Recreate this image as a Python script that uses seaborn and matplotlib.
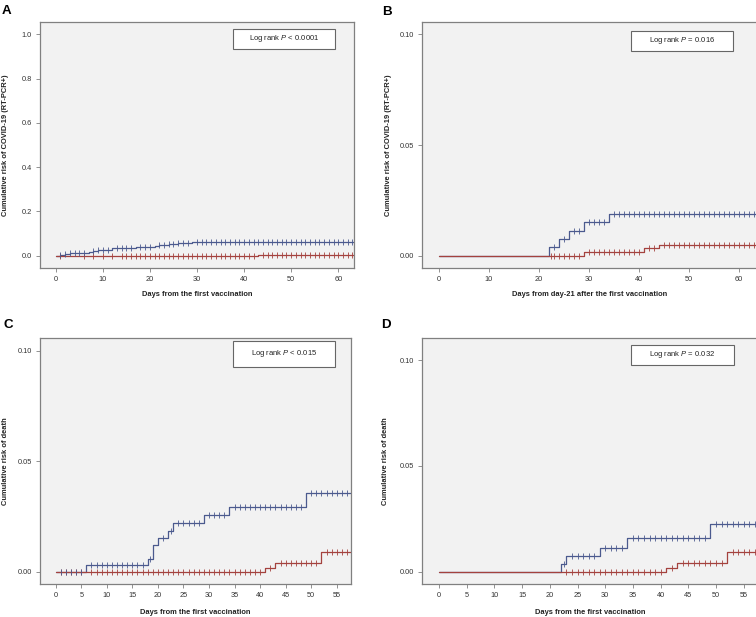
import numpy as np
import pandas as pd
import matplotlib
matplotlib.use("Agg")
import matplotlib.pyplot as plt
from matplotlib.patches import Rectangle
import seaborn as sns

sns.set_theme(style="white")
plt.rcParams['font.family'] = ['Liberation Sans', 'DejaVu Sans']
plt.rcParams['mathtext.fontset'] = 'custom'
plt.rcParams['mathtext.rm'] = 'Liberation Sans'
plt.rcParams['mathtext.it'] = 'Liberation Sans:italic'

# ---------------- data ----------------
# Panel A: COVID-19 (RT-PCR+), days from first vaccination
A_blue_t = [0, 1, 2, 3, 7, 8, 9, 12, 17, 21, 22, 24, 26, 29, 64]
A_blue_v = [0, 0.004, 0.008, 0.012, 0.018, 0.022, 0.026, 0.033, 0.040, 0.045, 0.050, 0.055, 0.058, 0.063, 0.063]
A_red_t = [0, 43, 64]
A_red_v = [0, 0.004, 0.004]
A_blue_cens = [1, 2, 3, 4, 5, 6, 8, 9, 10, 11, 13, 14, 15, 16, 18, 19, 20, 22, 23, 24, 25, 26, 27, 28,
               30, 31, 32, 33, 34, 35, 36, 37, 38, 39, 40, 41, 42, 43, 44, 45, 46, 47, 48, 49, 50,
               51, 52, 53, 54, 55, 56, 57, 58, 59, 60, 61, 62, 63]
A_red_cens = [1, 6, 8, 10, 12, 14, 15, 16, 17, 18, 19, 20, 21, 22, 23, 24, 25, 26, 27, 28, 29, 30, 31,
              32, 33, 34, 35, 36, 37, 38, 39, 40, 41, 42, 44, 45, 46, 47, 48, 49, 50, 51, 52, 53, 54,
              55, 56, 57, 58, 59, 60, 61, 62, 63]

# Panel B: COVID-19 (RT-PCR+), days from day-21
B_blue_t = [0, 22, 24, 26, 29, 34, 64]
B_blue_v = [0, 0.0038, 0.0075, 0.0113, 0.0150, 0.0190, 0.0190]
B_red_t = [0, 29, 41, 44, 64]
B_red_v = [0, 0.0015, 0.0033, 0.0050, 0.0050]
B_blue_cens = [23, 25, 27, 28, 30, 31, 32, 33, 35, 36, 37, 38, 39, 40, 41, 42, 43, 44, 45, 46, 47, 48,
               49, 50, 51, 52, 53, 54, 55, 56, 57, 58, 59, 60, 61, 62, 63]
B_red_cens = [22.5, 23, 24, 25, 26, 27, 28, 30, 31, 32, 33, 34, 35, 36, 37, 38, 39, 40, 42, 43, 45, 46,
              47, 48, 49, 50, 51, 52, 53, 54, 55, 56, 57, 58, 59, 60, 61, 62, 63]

# Panel C: death, days from first vaccination
C_blue_t = [0, 6, 18, 19, 20, 22, 23, 29, 34, 49, 59]
C_blue_v = [0, 0.0029, 0.0057, 0.0122, 0.0152, 0.0184, 0.0219, 0.0256, 0.0294, 0.0354, 0.0354]
C_red_t = [0, 41, 43, 52, 59]
C_red_v = [0, 0.0017, 0.0041, 0.0089, 0.0089]
C_blue_cens = [1, 2, 3, 4, 5, 7, 8, 9, 10, 11, 12, 13, 14, 15, 16, 17, 18.5, 21, 22.5, 24, 25, 26, 27,
               28, 30, 31, 32, 33, 35, 36, 37, 38, 39, 40, 41, 42, 43, 44, 45, 46, 47, 48, 50, 51, 52,
               53, 54, 55, 56, 57, 58]
C_red_cens = [1, 2, 3, 4, 5, 7, 8, 9, 10, 11, 12, 13, 14, 15, 16, 17, 18, 19, 20, 21, 22, 23, 24, 25,
              26, 27, 28, 29, 30, 31, 32, 33, 34, 35, 36, 37, 38, 39, 40, 42, 44, 45, 46, 47, 48, 49,
              50, 51, 53, 54, 55, 56, 57, 58]

# Panel D: death, days from first vaccination
D_blue_t = [0, 22, 23, 29, 34, 49, 59]
D_blue_v = [0, 0.0035, 0.0074, 0.0113, 0.0157, 0.0225, 0.0225]
D_red_t = [0, 41, 43, 52, 59]
D_red_v = [0, 0.0017, 0.0043, 0.0094, 0.0094]
D_blue_cens = [22.5, 24, 25, 26, 27, 28, 30, 31, 32, 33, 35, 36, 37, 38, 39, 40, 41, 42, 43, 44, 45,
               46, 47, 48, 50, 51, 52, 53, 54, 55, 56, 57, 58]
D_red_cens = [23, 24, 25, 26, 27, 28, 29, 30, 31, 32, 33, 34, 35, 36, 37, 38, 39, 40, 42, 44, 45, 46,
              47, 48, 49, 50, 51, 53, 54, 55, 56, 57, 58]

p_texts = ["Log rank $P$ < 0.0001", "Log rank $P$ = 0.016",
           "Log rank $P$ < 0.015", "Log rank $P$ = 0.032"]
ylabels = ["Cumulative risk of COVID-19 (RT-PCR+)", "Cumulative risk of COVID-19 (RT-PCR+)",
           "Cumulative risk of death", "Cumulative risk of death"]
xlabels = ["Days from the first vaccination", "Days from day-21 after the first vaccination",
           "Days from the first vaccination", "Days from the first vaccination"]
panel_letters = ["A", "B", "C", "D"]
xticks_list = [[0, 10, 20, 30, 40, 50, 60], [0, 10, 20, 30, 40, 50, 60],
               [0, 5, 10, 15, 20, 25, 30, 35, 40, 45, 50, 55],
               [0, 5, 10, 15, 20, 25, 30, 35, 40, 45, 50, 55]]
yticks_list = [[0.0, 0.2, 0.4, 0.6, 0.8, 1.0], [0.00, 0.05, 0.10],
               [0.00, 0.05, 0.10], [0.00, 0.05, 0.10]]
ytick_fmt = ["{:.1f}", "{:.2f}", "{:.2f}", "{:.2f}"]

curves = [
    (A_blue_t, A_blue_v, A_red_t, A_red_v, A_blue_cens, A_red_cens),
    (B_blue_t, B_blue_v, B_red_t, B_red_v, B_blue_cens, B_red_cens),
    (C_blue_t, C_blue_v, C_red_t, C_red_v, C_blue_cens, C_red_cens),
    (D_blue_t, D_blue_v, D_red_t, D_red_v, D_blue_cens, D_red_cens),
]

# ---------------- layout (pixels) ----------------
W, H = 756, 617
BLUE = "#4b5a8e"
RED = "#a4423e"
BG = "#f2f2f2"
SPINE = "#808080"

# axes boxes: left, right, top, bottom in px
boxes = [(40, 354, 22, 268), (422, 758, 22, 268), (40, 351, 338, 584), (422, 758, 338, 584)]
xlims = [(-3.33, 63.33), (-3.40, 63.86), (-3.07, 57.78), (-3.07, 57.58)]
ylims = [(-0.0555, 1.0555), (-0.00556, 0.10556), (-0.00557, 0.10575), (-0.0058, 0.1104)]
legend_boxes = [(233, 335, 29, 49), (631, 733, 31, 51), (233, 335, 341, 367), (631, 734, 345, 365)]
letter_pos = [(2, 14), (382, 15), (4, 328), (381, 328)]
ylabel_x = [-0.099, -0.089, -0.100, -0.098]
xlabel_y = [-0.093, -0.093, -0.100, -0.100]

fig = plt.figure(figsize=(W / 100, H / 100), dpi=100)


def step_lookup(t, v, c):
    t = np.asarray(t, float)
    v = np.asarray(v, float)
    idx = np.searchsorted(t, np.asarray(c, float), side="right") - 1
    return v[idx]


for i in range(4):
    l, r, tp, bt = boxes[i]
    ax = fig.add_axes([l / W, 1 - bt / H, (r - l) / W, (bt - tp) / H])
    ax.set_facecolor(BG)
    bt_, bv_, rt_, rv_, bc_, rc_ = curves[i]

    dfb = pd.DataFrame({"t": bt_, "v": bv_})
    dfr = pd.DataFrame({"t": rt_, "v": rv_})
    sns.lineplot(data=dfb, x="t", y="v", ax=ax, color=BLUE, lw=0.9, drawstyle="steps-post",
                 estimator=None, sort=False)
    sns.lineplot(data=dfr, x="t", y="v", ax=ax, color=RED, lw=0.9, drawstyle="steps-post",
                 estimator=None, sort=False)

    dcr = pd.DataFrame({"t": rc_, "v": step_lookup(rt_, rv_, rc_)})
    dcb = pd.DataFrame({"t": bc_, "v": step_lookup(bt_, bv_, bc_)})
    sns.scatterplot(data=dcr, x="t", y="v", ax=ax, marker="|", s=16, linewidth=0.6, color=RED,
                    zorder=3)
    sns.scatterplot(data=dcb, x="t", y="v", ax=ax, marker="|", s=16, linewidth=0.6, color=BLUE,
                    zorder=4)

    ax.set_xlim(*xlims[i])
    ax.set_ylim(*ylims[i])
    ax.set_xticks(xticks_list[i])
    ax.set_xticklabels([str(x) for x in xticks_list[i]])
    ax.set_yticks(yticks_list[i])
    ax.set_yticklabels([ytick_fmt[i].format(y) for y in yticks_list[i]])
    ax.tick_params(axis="both", direction="out", length=3, width=0.6, color=SPINE,
                   labelsize=5.3, labelcolor="#333333", pad=3,
                   bottom=True, left=True)
    for s in ax.spines.values():
        s.set_color(SPINE)
        s.set_linewidth(0.9)
        s.set_visible(True)

    ax.set_xlabel(xlabels[i], fontsize=5.4, fontweight="bold", color="#222222")
    ax.set_ylabel(ylabels[i], fontsize=5.4, fontweight="bold", color="#222222")
    ax.xaxis.set_label_coords(0.5, xlabel_y[i])
    ax.yaxis.set_label_coords(ylabel_x[i], 0.5)

    # legend-like box with log-rank text
    bx0, bx1, by0, by1 = legend_boxes[i]
    fig.add_artist(Rectangle((bx0 / W, 1 - by1 / H), (bx1 - bx0) / W, (by1 - by0) / H,
                             transform=fig.transFigure, facecolor="white", edgecolor="#666666",
                             linewidth=0.8, zorder=5))
    fig.text((bx0 + bx1) / 2 / W, 1 - (by0 + by1) / 2 / H, p_texts[i], ha="center", va="center",
             fontsize=5.5, color="#222222", zorder=6)

    lx, ly = letter_pos[i]
    fig.text(lx / W, 1 - ly / H, panel_letters[i], fontsize=9.6, fontweight="bold",
             ha="left", va="baseline", color="black")

fig.savefig("out.png", dpi=100)
